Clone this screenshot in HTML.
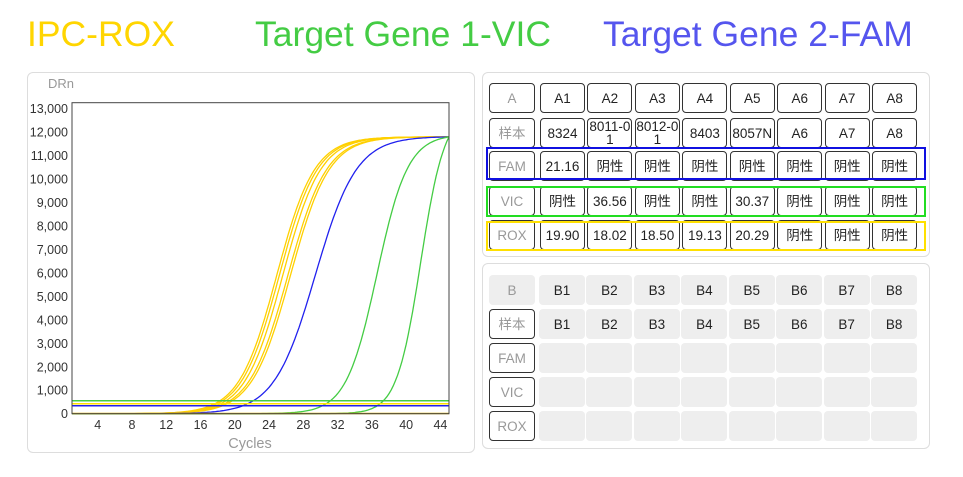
<!DOCTYPE html>
<html><head><meta charset="utf-8"><style>
body{margin:0;width:963px;height:477px;background:#fff;position:relative;overflow:hidden;font-family:"Liberation Sans","Noto Sans CJK SC",sans-serif}
.t{position:absolute;top:14px;font-size:35.5px;white-space:nowrap}
.c{position:absolute;box-sizing:border-box;display:flex;align-items:center;justify-content:center;font-size:13.5px;color:#222;border-radius:4px;text-align:center;line-height:13px}
.b{border:1px solid #333;background:#fff}
.g{background:#eeeeee}
.lab{color:#999}
.p{position:absolute;border:1px solid #ddd;border-radius:6px;box-sizing:border-box}
.hl{position:absolute;box-sizing:border-box;border:2px solid}
</style></head><body>
<div class="t" style="left:27px;color:#FFD500">IPC-ROX</div>
<div class="t" style="left:255px;color:#44CC44">Target Gene 1-VIC</div>
<div class="t" style="left:603px;color:#5555EE">Target Gene 2-FAM</div>
<div class="p" style="left:27px;top:72px;width:448px;height:381px"></div>
<div class="p" style="left:482px;top:72px;width:448px;height:185px"></div>
<div class="p" style="left:482px;top:263px;width:448px;height:186px"></div>
<svg id="ch" style="position:absolute;left:0;top:0" width="963" height="477"></svg>
<div id="cells"></div>
<div class="hl" style="left:486px;top:147px;width:440px;height:33px;border-color:#1010e0"></div>
<div class="hl" style="left:486px;top:186px;width:440px;height:31px;border-color:#22dd22"></div>
<div class="hl" style="left:486px;top:221px;width:440px;height:30px;border-color:#ffe000"></div>
<script>
var s='',X=c=>72+(c-1)*8.568,Y=v=>413.7-v*0.02346;
s+='<text x="48" y="88" font-size="13" fill="#999" font-family="Liberation Sans">DRn</text>';
for(var i=0;i<=13;i++){var v=i*1000;s+='<text x="68" y="'+(Y(v)+4.5)+'" font-size="12.5" fill="#333" text-anchor="end" font-family="Liberation Sans">'+(i?v.toLocaleString('en-US'):'0')+'</text>';}
for(var c=4;c<=44;c+=4)s+='<text x="'+X(c)+'" y="429" font-size="12.5" fill="#333" text-anchor="middle" font-family="Liberation Sans">'+c+'</text>';
s+='<text x="250" y="448" font-size="14.5" fill="#999" text-anchor="middle" font-family="Liberation Sans">Cycles</text>';
function L(c,m,k){return 1/(1+Math.exp(-(c-m)/k));}
function cur(m,k,col){var d='';for(var c=1;c<=45;c+=0.25){var v=11800*L(c,m,k)/L(45,m,k);d+=(d?'L':'M')+X(c).toFixed(1)+' '+Y(v).toFixed(1);}return '<path d="'+d+'" fill="none" stroke="'+col+'" stroke-width="1.3"/>';}
[[24.9,2.2],[25.2,2.2],[25.6,2.2],[26.2,2.25],[26.5,2.25]].forEach(a=>s+=cur(a[0],a[1],'#FFD000'));
s+=cur(29.4,2.4,'#2020EE');s+=cur(36.6,1.8,'#44CC44');s+=cur(41.7,1.4,'#44CC44');
s+='<line x1="72" x2="449" y1="400.7" y2="400.7" stroke="#44CC44" stroke-width="1.5"/>';
s+='<line x1="72" x2="449" y1="403.7" y2="403.7" stroke="#FFE000" stroke-width="1.5"/>';
s+='<line x1="72" x2="449" y1="405.7" y2="405.7" stroke="#2020EE" stroke-width="1.5"/>';
s+='<line x1="72" x2="449" y1="413.5" y2="413.5" stroke="#DDB000" stroke-width="1.5"/>';
s+='<rect x="72" y="102.7" width="377" height="311" fill="none" stroke="#444" stroke-width="1"/>';
document.getElementById('ch').innerHTML=s;
var h='';
function cell(x,y,w,hh,cls,t){h+='<div class="c '+cls+'" style="left:'+x+'px;top:'+y+'px;width:'+w+'px;height:'+hh+'px">'+t+'</div>';}
var ng='阴性';
var A=[['A','A1','A2','A3','A4','A5','A6','A7','A8'],['样本','8324','8011-0<br>1','8012-0<br>1','8403','8057N','A6','A7','A8'],['FAM','21.16',ng,ng,ng,ng,ng,ng,ng],['VIC',ng,'36.56',ng,ng,'30.37',ng,ng,ng],['ROX','19.90','18.02','18.50','19.13','20.29',ng,ng,ng]];
var ay=[83,118,151,186,220];
A.forEach((r,i)=>r.forEach((t,j)=>{var x=j?540+(j-1)*47.45:489,w=j?45:46;cell(x,ay[i],w,30,'b'+(j?'':' lab'),t);}));
var by=[275,309,343,377,411];
for(var i=0;i<5;i++)for(var j=0;j<9;j++){var x=j?539+(j-1)*47.45:489,w=46;var t='';if(j==0)t=['B','样本','FAM','VIC','ROX'][i];else if(i<2)t='B'+j;cell(x,by[i],w,30,(j==0&&i>0)?'b lab':(j==0?'g lab':'g'),t);}
document.getElementById('cells').innerHTML=h;
</script>
</body></html>
